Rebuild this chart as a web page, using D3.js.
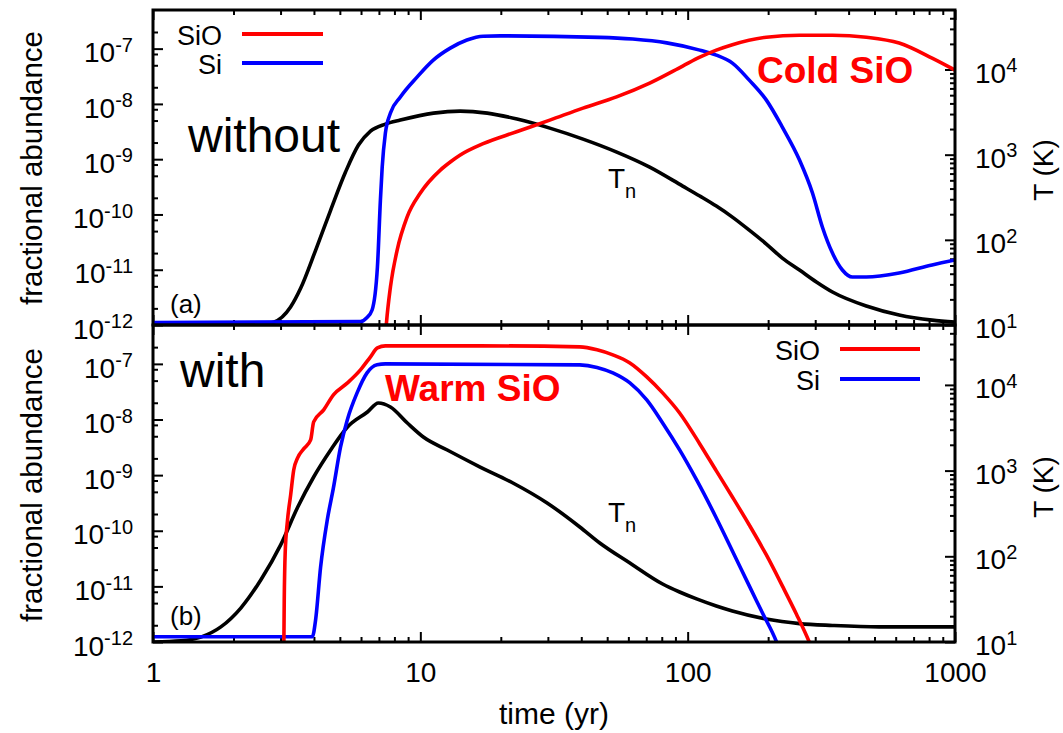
<!DOCTYPE html>
<html>
<head>
<meta charset="utf-8">
<script src="https://cdn.jsdelivr.net/npm/d3@7"></script>
<style>
  html, body { margin: 0; padding: 0; background: #fff; }
  svg { display: block; font-family: "Liberation Sans", Arial, Helvetica, sans-serif; }
</style>
</head>
<body>
<svg id="chart" width="1063" height="733"></svg>
<script>
// ---- axis tick values ----
const timeTicks = [1, 10, 100, 1000];
const abundanceExponents = [-12, -11, -10, -9, -8, -7];
const temperatureExponents = [1, 2, 3, 4];

// ---- panel (a): without ----
const tnA_time = [1, 2.5, 2.83, 3.27, 3.57, 4.06, 4.62, 5.25, 5.87, 6.51, 7.40, 8.42, 11.2, 14.1, 17.8, 23.0, 30.5, 40.6, 54.3, 72.1, 95.8, 111, 128, 147, 170, 197, 226, 262, 303, 348, 466, 618, 821, 1000];
const tnA_K    = [10, 10.1, 10.8, 16.3, 27.2, 75.9, 224, 625, 1297, 1892, 2286, 2547, 3076, 3250, 3076, 2618, 2052, 1524, 1073, 715, 428, 327, 249, 185, 130, 89.3, 61.1, 44.2, 32.0, 24.4, 16.7, 13.1, 11.4, 10.8];

const siA_time  = [1, 5.97, 6.29, 6.60, 6.91, 7.09, 7.20, 7.40, 7.73, 8.42, 9.72, 11.18, 12.94, 14.94, 17.18, 19.9, 46.9, 62.3, 83.5, 111, 128, 147, 170, 197, 226, 262, 293, 319, 348, 379, 413, 466, 618, 821, 1000];
const siA_abund = [1.11e-12, 1.15e-12, 1.34e-12, 1.87e-12, 1.12e-11, 1.82e-10, 7.19e-10, 2.96e-9, 6.83e-9, 1.33e-8, 3.05e-8, 6.19e-8, 1.02e-7, 1.43e-7, 1.68e-7, 1.70e-7, 1.60e-7, 1.49e-7, 1.27e-7, 9.4e-8, 7.63e-8, 5.47e-8, 2.69e-8, 1.17e-8, 3.80e-9, 9.64e-10, 2.44e-10, 5.92e-11, 2.0e-11, 9.88e-12, 7.38e-12, 7.38e-12, 8.71e-12, 1.22e-11, 1.50e-11];

const sioA_time  = [7.38, 7.47, 7.73, 8.19, 8.92, 10, 11.88, 12.94, 14.1, 17.18, 22.9, 30.5, 40.6, 54.2, 72.1, 95.8, 111, 128, 147, 197, 262, 348, 466, 618, 821, 1000];
const sioA_abund = [5e-13, 1.09e-12, 4.87e-12, 2.27e-11, 8.97e-11, 2.44e-10, 6.35e-10, 8.87e-10, 1.19e-9, 1.91e-9, 3.13e-9, 5.09e-9, 8.4e-9, 1.34e-8, 2.38e-8, 4.83e-8, 7.0e-8, 9.4e-8, 1.18e-7, 1.61e-7, 1.75e-7, 1.75e-7, 1.61e-7, 1.26e-7, 6.73e-8, 4.08e-8];

// ---- panel (b): with ----
const tnB_time = [1, 1.272, 1.51, 1.794, 2.13, 2.53, 3.00, 3.48, 3.99, 4.62, 5.34, 6.34, 6.97, 7.73, 8.94, 10.26, 12.61, 16.74, 22.2, 29.8, 39.5, 46.9, 60.8, 80.6, 93.3, 108, 128, 147, 197, 262, 348, 520, 1000];
const tnB_K    = [10, 10.3, 11.4, 15.0, 24.9, 52.9, 135, 376, 842, 1740, 3225, 4830, 6150, 5520, 3590, 2466, 1740, 1101, 717, 419, 220, 143, 83.5, 47.5, 38.3, 31.8, 26.3, 23.0, 18.5, 16.4, 15.6, 15.0, 15.0];

const siB_time  = [1, 3.944, 4.057, 4.236, 4.486, 4.73, 5.03, 5.33, 5.80, 6.32, 6.89, 7.40, 39.5, 45.8, 52.5, 60.8, 70.3, 80.6, 93.3, 108, 128, 147, 170, 190.5, 215, 224];
const siB_abund = [1.24e-12, 1.24e-12, 2.49e-12, 2.23e-11, 1.56e-10, 5.89e-10, 3.21e-9, 9.84e-9, 3.01e-8, 6.89e-8, 9.6e-8, 1.0e-7, 9.6e-8, 8.65e-8, 6.89e-8, 4.55e-8, 2.25e-8, 8.69e-9, 2.84e-9, 8.2e-10, 1.70e-10, 4.34e-11, 1.02e-11, 3.32e-12, 1e-12, 5.84e-13];

const sioB_time  = [3.083, 3.097, 3.122, 3.181, 3.273, 3.36, 3.475, 3.66, 3.887, 3.99, 4.35, 4.73, 5.34, 5.97, 6.51, 6.91, 7.40, 16.74, 39.5, 45.8, 52.5, 60.8, 70.3, 80.6, 93.3, 111, 128, 147, 170, 197, 226, 255, 285, 298];
const sioB_abund = [5e-13, 5.69e-12, 3.99e-11, 1.44e-10, 4.41e-10, 1.24e-9, 2.04e-9, 2.96e-9, 4.30e-9, 9.06e-9, 1.49e-8, 2.77e-8, 4.55e-8, 7.80e-8, 1.34e-7, 1.94e-7, 2.11e-7, 2.11e-7, 2.02e-7, 1.79e-7, 1.45e-7, 1.04e-7, 5.84e-8, 3.01e-8, 1.31e-8, 3.64e-9, 1.19e-9, 4.05e-10, 1.27e-10, 3.67e-11, 1.02e-11, 3.19e-12, 1e-12, 5.84e-13];

// ---- legend ----
const seriesNames = ["SiO", "Si"];
const seriesColors = ["#ff0000", "#0000ff"];

const zip = (a, b) => a.map((v, i) => [v, b[i]]);

const svg = d3.select("#chart");
const X0 = 153, X1 = 955;
const x = d3.scaleLog().domain([1, 1000]).range([X0, X1]);

const xMinor = [];
[1, 10, 100].forEach(d => { for (let m = 2; m <= 9; m++) xMinor.push(d * m); });

const panels = [
  { id: "a", top: 10, bottom: 325,
    tn: zip(tnA_time, tnA_K), si: zip(siA_time, siA_abund), sio: zip(sioA_time, sioA_abund),
    bigLabel: "without", bigX: 188, bigY: 152,
    tag: "(a)", tagY: 313,
    red: "Cold SiO", redX: 757, redY: 83,
    tnX: 608, tnY: 188,
    legendEnd: 222, legendLine: [242, 323], legendY: [34, 63],
    titleY: 168, xLabels: false },
  { id: "b", top: 325, bottom: 642,
    tn: zip(tnB_time, tnB_K), si: zip(siB_time, siB_abund), sio: zip(sioB_time, sioB_abund),
    bigLabel: "with", bigX: 180, bigY: 387,
    tag: "(b)", tagY: 625,
    red: "Warm SiO", redX: 385, redY: 401,
    tnX: 608, tnY: 522,
    legendEnd: 820, legendLine: [840, 920], legendY: [349, 379],
    titleY: 485, xLabels: true }
];

// writes "10" with a raised exponent into each tick label
function powerLabels(sel) {
  sel.selectAll(".tick text").each(function(d) {
    const t = d3.select(this);
    if (t.text() === "") return;
    const e = Math.round(Math.log10(d));
    t.text(null);
    t.append("tspan").text("10");
    t.append("tspan").attr("dy", "-0.52em").attr("font-size", 20).text(String(e));
  });
}

function styleAxis(g) {
  g.select(".domain").remove();
  g.selectAll(".tick line").attr("stroke", "#000").attr("stroke-width", 2);
  g.selectAll(".tick text").attr("fill", "#000").attr("font-size", 28);
}

panels.forEach(p => {
  const yA = d3.scaleLog().domain([1e-12, 5e-7]).range([p.bottom, p.top]);
  const yT = d3.scaleLog().domain([10, 5e4]).range([p.bottom, p.top]);
  const g = svg.append("g");

  const clipId = "clip-" + p.id;
  svg.append("defs").append("clipPath").attr("id", clipId)
    .append("rect").attr("x", X0).attr("y", p.top).attr("width", X1 - X0).attr("height", p.bottom - p.top);

  // left axis: abundance
  const abMajor = abundanceExponents.map(e => Math.pow(10, e));
  const abMinor = [];
  abundanceExponents.forEach(e => [2, 5, 8].forEach(m => {
    const v = m * Math.pow(10, e);
    if (v < 5e-7 * 0.99) abMinor.push(v);
  }));
  const gl = g.append("g").attr("transform", `translate(${X0},0)`)
    .call(d3.axisLeft(yA).tickValues(abMajor).tickSize(-10).tickPadding(20).tickFormat(() => "x"));
  styleAxis(gl);
  gl.selectAll(".tick text").attr("dy", "0.47em");
  powerLabels(gl);
  const glm = g.append("g").attr("transform", `translate(${X0},0)`)
    .call(d3.axisLeft(yA).tickValues(abMinor).tickSize(-5).tickFormat(""));
  styleAxis(glm);

  // right axis: temperature
  const tMajor = temperatureExponents.map(e => Math.pow(10, e));
  const tMinor = [];
  temperatureExponents.forEach(e => { for (let m = 2; m <= 9; m++) { const v = m * Math.pow(10, e); if (v < 5e4) tMinor.push(v); } });
  const gr = g.append("g").attr("transform", `translate(${X1},0)`)
    .call(d3.axisRight(yT).tickValues(tMajor).tickSize(-10).tickPadding(20).tickFormat(() => "x"));
  styleAxis(gr);
  gr.selectAll(".tick text").attr("dy", "0.45em");
  powerLabels(gr);
  const grm = g.append("g").attr("transform", `translate(${X1},0)`)
    .call(d3.axisRight(yT).tickValues(tMinor).tickSize(-5).tickFormat(""));
  styleAxis(grm);

  // time ticks on bottom and top edges
  const gb = g.append("g").attr("transform", `translate(0,${p.bottom})`)
    .call(d3.axisBottom(x).tickValues(timeTicks).tickSize(-10).tickPadding(20)
      .tickFormat(p.xLabels ? d3.format("d") : () => ""));
  styleAxis(gb);
  const gbm = g.append("g").attr("transform", `translate(0,${p.bottom})`)
    .call(d3.axisBottom(x).tickValues(xMinor).tickSize(-5).tickFormat(""));
  styleAxis(gbm);
  const gt = g.append("g").attr("transform", `translate(0,${p.top})`)
    .call(d3.axisTop(x).tickValues(timeTicks).tickSize(-10).tickFormat(""));
  styleAxis(gt);
  const gtm = g.append("g").attr("transform", `translate(0,${p.top})`)
    .call(d3.axisTop(x).tickValues(xMinor).tickSize(-5).tickFormat(""));
  styleAxis(gtm);

  // curves: T_n on the right scale, Si and SiO on the left scale
  const curves = g.append("g").attr("clip-path", `url(#${clipId})`);
  const lineT = d3.line().x(d => x(d[0])).y(d => yT(d[1])).curve(d3.curveMonotoneX);
  const lineA = d3.line().x(d => x(d[0])).y(d => yA(d[1])).curve(d3.curveMonotoneX);
  curves.append("path").datum(p.tn).attr("d", lineT)
    .attr("fill", "none").attr("stroke", "#000").attr("stroke-width", 3.6).attr("stroke-linejoin", "round");
  curves.append("path").datum(p.si).attr("d", lineA)
    .attr("fill", "none").attr("stroke", seriesColors[1]).attr("stroke-width", 3.6).attr("stroke-linejoin", "round");
  curves.append("path").datum(p.sio).attr("d", lineA)
    .attr("fill", "none").attr("stroke", seriesColors[0]).attr("stroke-width", 3.6).attr("stroke-linejoin", "round");

  // frame
  g.append("rect").attr("x", X0).attr("y", p.top).attr("width", X1 - X0).attr("height", p.bottom - p.top)
    .attr("fill", "none").attr("stroke", "#000").attr("stroke-width", 3);

  // legend
  seriesNames.forEach((name, i) => {
    g.append("text").attr("x", p.legendEnd).attr("y", p.legendY[i] + 11)
      .attr("text-anchor", "end").attr("font-size", 27).text(name);
    g.append("line").attr("x1", p.legendLine[0]).attr("x2", p.legendLine[1])
      .attr("y1", p.legendY[i]).attr("y2", p.legendY[i])
      .attr("stroke", seriesColors[i]).attr("stroke-width", 4);
  });

  // annotations
  g.append("text").attr("x", p.bigX).attr("y", p.bigY).attr("font-size", 48).text(p.bigLabel);
  g.append("text").attr("x", 170).attr("y", p.tagY).attr("font-size", 26).text(p.tag);
  g.append("text").attr("x", p.redX).attr("y", p.redY).attr("font-size", 37).attr("font-weight", "bold")
    .attr("fill", "#ff0000").text(p.red);
  const tn = g.append("text").attr("x", p.tnX).attr("y", p.tnY).attr("font-size", 28);
  tn.append("tspan").text("T");
  tn.append("tspan").attr("dy", 10).attr("font-size", 20).text("n");

  // axis titles
  g.append("text").attr("transform", `translate(42,${p.titleY}) rotate(-90)`)
    .attr("text-anchor", "middle").attr("font-size", 29.5).text("fractional abundance");
  g.append("text").attr("transform", `translate(1053,${p.titleY + 2}) rotate(-90)`)
    .attr("text-anchor", "middle").attr("font-size", 28).text("T (K)");
});

svg.append("text").attr("x", 554).attr("y", 724).attr("text-anchor", "middle")
  .attr("font-size", 30).text("time (yr)");
</script>
</body>
</html>
